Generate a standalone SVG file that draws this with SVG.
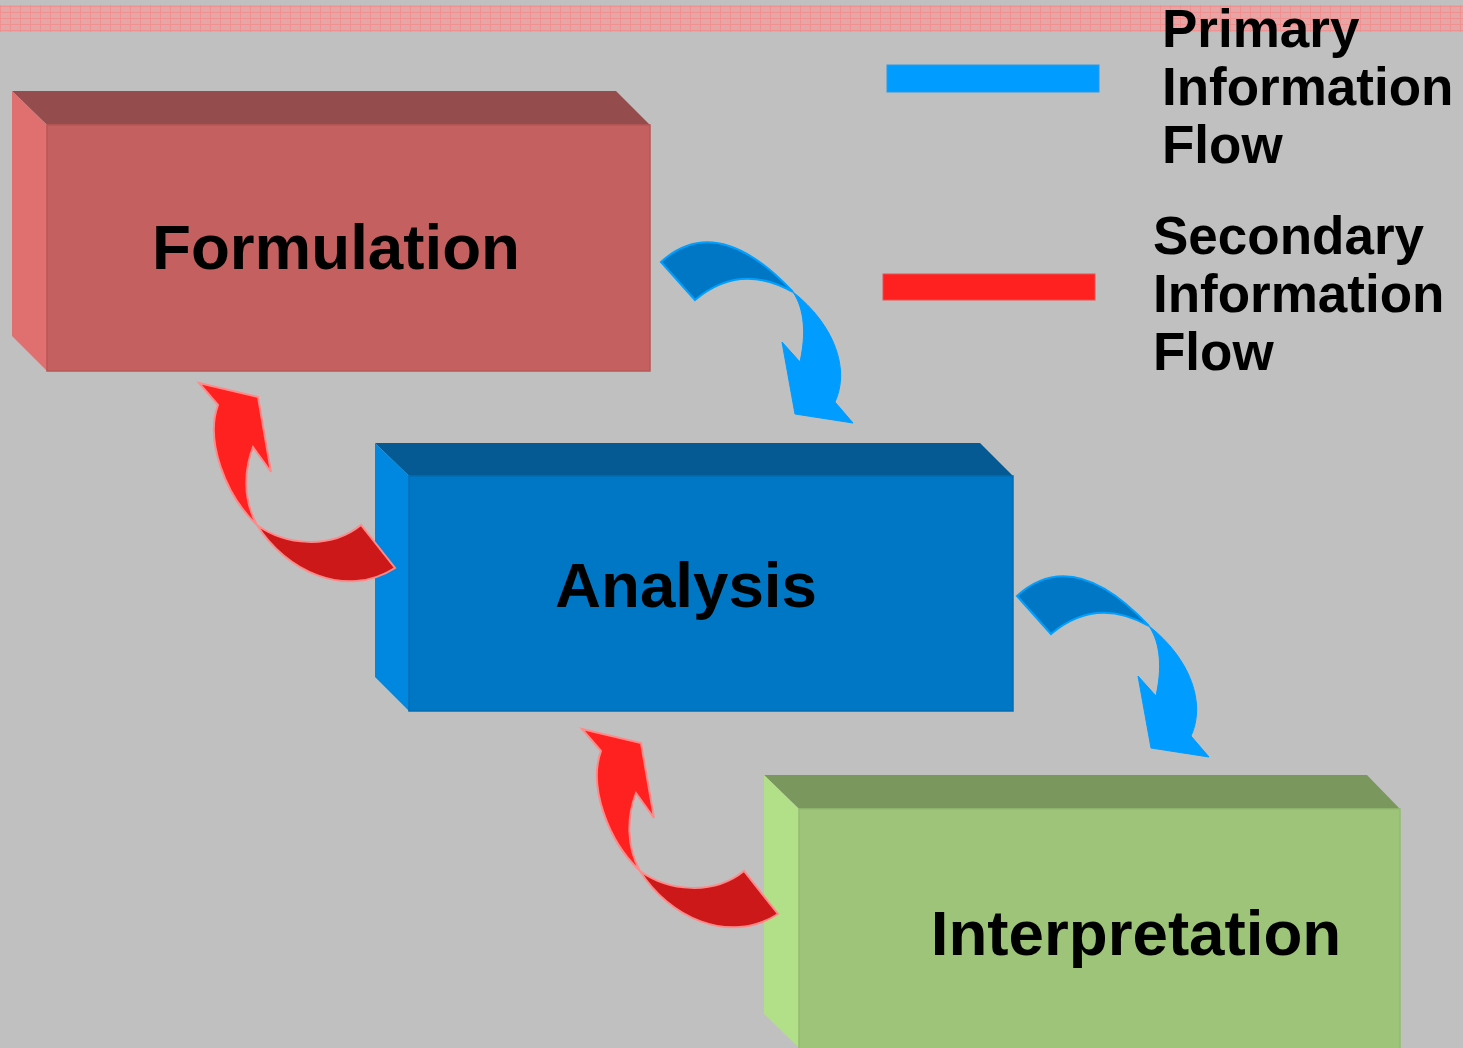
<svg xmlns="http://www.w3.org/2000/svg" width="1463" height="1048" viewBox="0 0 1463 1048">
  <defs>
    <pattern id="grid" width="10" height="6" patternUnits="userSpaceOnUse">
      <rect width="10" height="6" fill="#e6a6a6"/>
      <path d="M0.5,0 V6 M0,0.5 H10" stroke="#f09090" stroke-width="1" fill="none"/>
    </pattern>
    <g id="blueArrow">
      <path class="btail" d="M661,262 Q717,211 793,292 Q740,262 695,300 Z"/>
      <path class="bhead" d="M793,292 C835,325 850,370 835,402 L853,423 L795,414 L782,342 L800,362 C806,335 805,310 793,292 Z"/>
    </g>
    <g id="redArrow">
      <path class="rhead" d="M218,405 L199,383 L258,397 L271,472 L253,447 C244,470 243,500 257,525 C225,495 205,440 218,405 Z"/>
      <path class="rtail" d="M257,525 C285,570 345,600 395,568 L361,525 C330,550 285,545 257,525 Z"/>
    </g>
  </defs>
  <style>
    .label { font-family: "Liberation Sans", Arial, sans-serif; font-weight: bold; fill: #000000; }
    .big { font-size: 63.7px; text-anchor: middle; }
    .legend { font-size: 53px; }
    .btail { fill: #0077c4; stroke: #00a0ff; stroke-width: 2; stroke-linejoin: miter; }
    .bhead { fill: #009cff; stroke: #009cff; stroke-width: 1; }
    .rhead { fill: #ff2020; stroke: #ff8a8a; stroke-width: 2; }
    .rtail { fill: #cc1818; stroke: #ff8a8a; stroke-width: 2; }
  </style>

  <rect x="0" y="0" width="1463" height="1048" fill="#c0c0c0"/>
  <rect x="0" y="5" width="1463" height="27" fill="url(#grid)"/>

  <g id="formulation">
    <polygon points="12,91 616,91 650,125 47,125" fill="#954c4c"/>
    <polygon points="12,91 47,125 47,371 12,336" fill="#e07070"/>
    <rect x="47" y="125" width="603" height="246" fill="#c46060" stroke="#b85656" stroke-width="1.5"/>
    <text class="label big" x="336" y="269">Formulation</text>
  </g>

  <g id="analysis">
    <polygon points="375,443 980,443 1013,476 409,476" fill="#055a94"/>
    <polygon points="375,443 409,476 409,711 375,677" fill="#0088e0"/>
    <rect x="409" y="476" width="604" height="235" fill="#0077c4" stroke="#006db4" stroke-width="1.5"/>
    <text class="label big" x="686" y="607">Analysis</text>
  </g>

  <g id="interpretation">
    <polygon points="764,775 1367,775 1400,809 799,809" fill="#7a985e"/>
    <polygon points="764,775 799,809 799,1048 764,1014" fill="#b2e088"/>
    <rect x="799" y="809" width="601" height="245" fill="#9ec47a" stroke="#94ba70" stroke-width="1.5"/>
    <text class="label big" x="1136" y="955">Interpretation</text>
  </g>

  <g id="connectors">
    <use href="#blueArrow"/>
    <use href="#blueArrow" transform="translate(356,334)"/>
    <use href="#redArrow"/>
    <use href="#redArrow" transform="translate(383,346)"/>
  </g>

  <g id="legend">
    <rect x="887" y="65" width="212" height="27" fill="#009cff" stroke="#2a9ae6" stroke-width="1"/>
    <text class="label legend" x="1162" y="47">Primary</text>
    <text class="label legend" x="1162" y="105">Information</text>
    <text class="label legend" x="1162" y="163">Flow</text>
    <rect x="883" y="274" width="212" height="26" fill="#ff2020" stroke="#e85050" stroke-width="1"/>
    <text class="label legend" x="1153" y="254">Secondary</text>
    <text class="label legend" x="1153" y="312">Information</text>
    <text class="label legend" x="1153" y="370">Flow</text>
  </g>
</svg>
